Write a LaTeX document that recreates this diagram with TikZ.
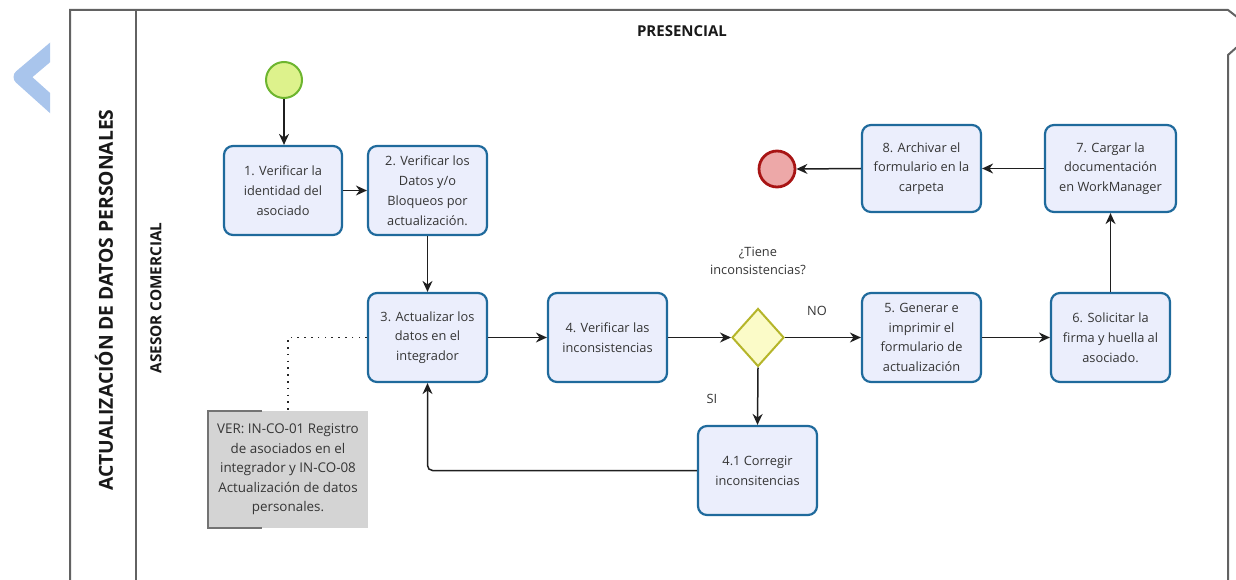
\documentclass[tikz,border=0pt]{standalone}
\usepackage{fontspec}
\setmainfont{Open Sans}
\usetikzlibrary{arrows.meta,shapes.geometric}
\definecolor{boxblue}{HTML}{1F6A9C}
\definecolor{boxfill}{HTML}{EBEEFC}
\definecolor{txt}{HTML}{353535}
\definecolor{framecol}{HTML}{626262}
\definecolor{startfill}{HTML}{DDF28C}
\definecolor{startdraw}{HTML}{6DB52F}
\definecolor{endfill}{HTML}{EDA8A8}
\definecolor{enddraw}{HTML}{A81414}
\definecolor{gwfill}{HTML}{FBFBC8}
\definecolor{gwdraw}{HTML}{B5B52A}
\definecolor{notefill}{HTML}{D4D4D4}
\definecolor{chev}{HTML}{A9C5EC}
\tikzset{
  taskbox/.style={draw=boxblue, line width=2.2pt, fill=boxfill, rounded corners=9pt,
    minimum width=119pt, minimum height=89pt, inner sep=0pt, align=center,
    text=txt, font=\fontsize{12.8}{19.8}\selectfont},
  flow/.style={line width=1.5pt, draw=black!88, -{Stealth[length=11pt,width=10pt]}},
  lbl/.style={text=txt, font=\fontsize{12.8}{18}\selectfont, align=center, inner sep=0pt},
  frameline/.style={draw=framecol, line width=2pt},
}
\begin{document}
\begin{tikzpicture}[x=1pt,y=-1pt]
\useasboundingbox (0,0) rectangle (1236,580);
% chevron
\begin{scope}
\clip (0,0) rectangle (50,140);
\draw[chev, line width=15pt, line join=round] (60,44) -- (21,77) -- (60,112);
\end{scope}
% frame
\draw[frameline] (70,582) -- (70,10) -- (1228,10) -- (1237,17);
\draw[frameline] (1237,47) -- (1228,55) -- (1228,582);
\draw[frameline] (136,10) -- (136,582);
\node[font=\bfseries\fontsize{15}{16}\selectfont, text=black!90] (pres) at (682,31) {PRESENCIAL};
\node[font=\bfseries\fontsize{19.3}{20}\selectfont, text=black!90, rotate=90] (title) at (104,300) {ACTUALIZACIÓN DE DATOS PERSONALES};
\node[font=\bfseries\fontsize{15.3}{16}\selectfont, text=black!90, rotate=90] (lane) at (156,298) {ASESOR COMERCIAL};

% events
\node[circle, draw=startdraw, fill=startfill, line width=2pt, minimum size=36pt, inner sep=0pt] (start) at (284,80) {};
\node[circle, draw=enddraw, fill=endfill, line width=2.8pt, minimum size=36pt, inner sep=0pt] (end) at (777,169) {};

% tasks
\node[taskbox, minimum width=118pt] (b1) at (283,190.5) {1. Verificar la\\identidad del\\asociado};
\node[taskbox] (b2) at (427.5,190.5) {2. Verificar los\\Datos y/o\\Bloqueos por\\actualización.};
\node[taskbox] (b3) at (427.5,337.5) {3. Actualizar los\\datos en el\\integrador};
\node[taskbox] (b4) at (607.5,337.5) {4. Verificar las\\inconsistencias};
\node[diamond, draw=gwdraw, fill=gwfill, line width=2pt, minimum width=52pt, minimum height=58pt, inner sep=0pt] (gw) at (758,337.5) {};
\node[taskbox] (b5) at (921.5,337.5) {5. Generar e\\imprimir el\\formulario de\\actualización};
\node[taskbox] (b6) at (1110.5,337.5) {6. Solicitar la\\firma y huella al\\asociado.};
\node[taskbox, minimum width=131pt, minimum height=87pt] (b7) at (1110.5,168.5) {7. Cargar la\\documentación\\en WorkManager};
\node[taskbox, minimum height=87pt] (b8) at (921.5,168.5) {8. Archivar el\\formulario en la\\carpeta};
\node[taskbox] (b41) at (757.5,470.5) {4.1 Corregir\\inconsitencias};

% annotation
\node[fill=notefill, minimum width=160pt, minimum height=117pt, inner sep=0pt, align=center,
      text=txt, font=\fontsize{13.4}{19.5}\selectfont] (note) at (288,469.5)
  {VER: IN-CO-01 Registro\\de asociados en el\\integrador y IN-CO-08\\Actualización de datos\\personales.};
\draw[draw=black!55, line width=1.5pt] ([xshift=54pt]note.north west) -- (note.north west) -- (note.south west) -- ([xshift=54pt]note.south west);
\coordinate (nc) at (288,337.5);
\draw[line width=1.8pt, dash pattern=on 1.6pt off 5.2pt, draw=black!85] (b3.west) -- (nc) -- (note.north);

% labels
\node[lbl] (q) at (758,261) {¿Tiene\\inconsistencias?};
\node[lbl] (no) at (817,311) {NO};
\node[lbl] (si) at (712,399) {SI};

% flows
\draw[flow] (start) -- (start |- b1.north);
\draw[flow] (b1.east) -- (b2.west);
\draw[flow] (b2.south) -- (b3.north);
\draw[flow] (b3.east) -- (b4.west);
\draw[flow] (b4.east) -- (gw.west);
\draw[flow] (gw.east) -- (b5.west);
\draw[flow] (b5.east) -- (b6.west);
\draw[flow] (b6.north) -- (b7.south);
\draw[flow] (b7.west) -- (b8.east);
\draw[flow] (b8.west) -- (end.east);
\draw[flow] (gw.south) -- (b41.north);
\draw[flow, rounded corners=5pt] (b41.west) -- (b3.south |- b41.west) -- (b3.south);
\end{tikzpicture}
\end{document}
